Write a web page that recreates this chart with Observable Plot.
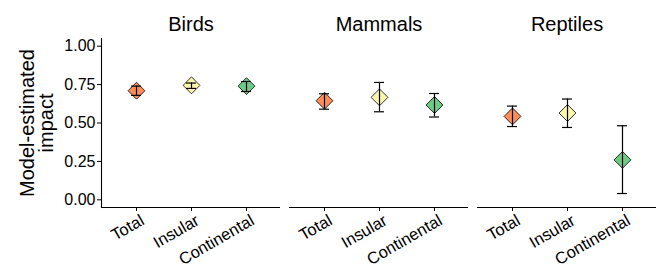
<!DOCTYPE html>
<html><head><meta charset="utf-8">
<script src="https://cdn.jsdelivr.net/npm/d3@7"></script>
<script src="https://cdn.jsdelivr.net/npm/@observablehq/plot@0.6"></script>
<style>body{margin:0;background:#fff}</style></head>
<body><div id="chart"></div>
<script>
const taxa = ["Birds", "Mammals", "Reptiles"];
const categories = ["Total", "Insular", "Continental"];
const colors = ["#fc8d59", "#fbf6ad", "#6ecb84"];
const yTicks = [0, 0.25, 0.5, 0.75, 1];
const yLabel = "Model-estimated\nimpact";
// Birds (Total, Insular, Continental), Mammals (...), Reptiles (...)
const estimate = [0.71, 0.745, 0.74, 0.645, 0.667, 0.617, 0.543, 0.565, 0.26];
const lower = [0.68, 0.725, 0.705, 0.59, 0.573, 0.539, 0.477, 0.471, 0.041];
const upper = [0.74, 0.76, 0.77, 0.69, 0.764, 0.692, 0.61, 0.656, 0.482];

const data = taxa.flatMap((t, i) => categories.map((c, j) => ({
  taxon: t, category: c, estimate: estimate[i * 3 + j], lower: lower[i * 3 + j], upper: upper[i * 3 + j]
})));

const chart = Plot.plot({
  width: 658, height: 270,
  marginTop: 38, marginBottom: 63, marginLeft: 100, marginRight: 0,
  style: {fontFamily: "'Liberation Sans', Arial, sans-serif", color: "black", background: "white"},
  fx: {domain: taxa, paddingInner: 0.047, paddingOuter: 0, label: null},
  x: {domain: categories, padding: 0.2, label: null},
  y: {domain: [-0.05, 1.05], label: null},
  color: {domain: categories, range: colors},
  marks: [
    Plot.axisFx({anchor: "top", label: null, tickSize: 0, tickPadding: 8, fontSize: 20}),
    Plot.axisY({ticks: yTicks, tickFormat: d => d.toFixed(2), fontSize: 16, tickSize: 4, tickPadding: 2, label: null}),
    Plot.axisX({tickSize: 4, tickFormat: () => "", label: null}),
    Plot.text(data, {fx: "taxon", x: "category", text: "category", frameAnchor: "bottom", rotate: -30, textAnchor: "end", lineAnchor: "top", dx: 3, dy: 6, fontSize: 16.5}),
    Plot.ruleY([-0.05], {stroke: "black", strokeWidth: 1.1}),
    Plot.frame({anchor: "left", facetAnchor: "left", stroke: "black", strokeWidth: 1.1}),
    Plot.text([yLabel], {frameAnchor: "left", facetAnchor: "left", rotate: -90, dx: -64, fontSize: 20, lineHeight: 0.95, textAnchor: "middle", lineAnchor: "middle"}),
    Plot.dot(data, {fx: "taxon", x: "category", y: "estimate", fill: "category", stroke: "black", strokeWidth: 0.8, symbol: "diamond2", r: 7.6}),
    Plot.ruleX(data, {fx: "taxon", x: "category", y1: "lower", y2: "upper", stroke: "black", strokeWidth: 1.2}),
    Plot.tickY(data, {fx: "taxon", x: "category", y: "lower", stroke: "black", strokeWidth: 1.2, insetLeft: 17, insetRight: 17}),
    Plot.tickY(data, {fx: "taxon", x: "category", y: "upper", stroke: "black", strokeWidth: 1.2, insetLeft: 17, insetRight: 17})
  ]
});
document.getElementById("chart").append(chart);
</script>
</body></html>
